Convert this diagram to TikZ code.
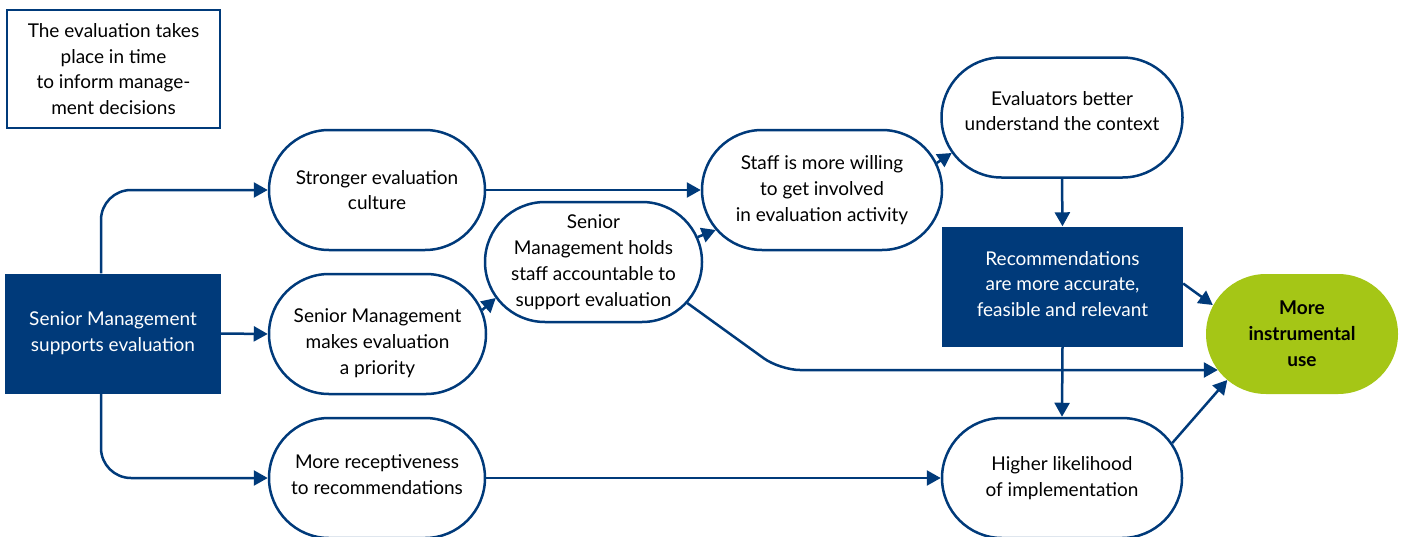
\documentclass[tikz,border=0pt]{standalone}
\usepackage{fontspec}
\setmainfont{Lato}
\usetikzlibrary{arrows.meta,calc}
\definecolor{navy}{RGB}{0,58,122}
\definecolor{lime}{RGB}{165,198,22}
\begin{document}
\begin{tikzpicture}[x=1pt,y=-1pt,
  every node/.style={align=center,font=\fontsize{19}{25.8}\selectfont,inner sep=0pt},
  every label/.style={align=center,font=\fontsize{19}{25.8}\selectfont,inner sep=0pt},
  pill/.style={draw=navy,line width=2.5pt,fill=white,rounded corners=60pt,minimum height=120pt},
  darkbox/.style={fill=navy,text=white,minimum height=120pt},
  notebox/.style={draw=navy,line width=2pt,minimum width=213pt,minimum height=118pt},
  goal/.style={fill=lime,rounded corners=60pt,minimum width=192pt,minimum height=120pt,font=\fontsize{19}{25.8}\selectfont\bfseries},
  arr/.style={draw=navy,line width=2.5pt,-{Triangle[length=14pt,width=15pt]}}]
\useasboundingbox (0,0) rectangle (1406,536);
\node[notebox] (note) at (113.5,69) {The evaluation takes\\place in time\\to inform manage-\\ment decisions};
\node[darkbox,minimum width=216pt] (smsupp) at (113,333.5) {Senior Management\\supports evaluation};
\node[pill,minimum width=216pt] (stronger) at (377,190) {Stronger evaluation\\culture};
\node[pill,minimum width=217pt,label={[yshift=-9pt]center:Senior Management\\makes evaluation\\a priority}] (makes) at (377.5,334) {};
\node[pill,minimum width=216pt,label={[yshift=3pt]center:More receptiveness\\to recommendations}] (recep) at (377,478) {};
\node[pill,minimum width=217pt] (holds) at (593.5,262) {Senior\\Management holds\\staff accountable to\\support evaluation};
\node[pill,minimum width=240pt] (staff) at (822,190) {Staff is more willing\\to get involved\\in evaluation activity};
\node[pill,minimum width=241pt,label={[yshift=6.5pt]center:Evaluators better\\understand the context}] (evalu) at (1062,117.5) {};
\node[darkbox,minimum width=241pt,label={[yshift=2.5pt,text=white]center:Recommendations\\are more accurate,\\feasible and relevant}] (recs) at (1062.5,286.5) {};
\node[goal] (green) at (1302,334) {More\\instrumental\\use};
\node[pill,minimum width=240pt] (higher) at (1062,478) {Higher likelihood\\of implementation};
\coordinate (bend) at (780,370);
\draw[arr,rounded corners=30pt] ([xshift=-12pt]smsupp.north) |- (stronger.west);
\draw[arr] (smsupp.east) -- (makes.west);
\draw[arr,rounded corners=30pt] ([xshift=-12pt]smsupp.south) |- (recep.west);
\draw[arr] (stronger.east) -- (staff.west);
\draw[arr] ([shift={(-5,-24)}]makes.east) -- ([shift={(12,36)}]holds.west);
\draw[arr] ([shift={(-5.5,-25)}]holds.east) -- ([shift={(15,40)}]staff.west);
\draw[arr] ([shift={(-6.5,-27)}]staff.east) -- ([shift={(11.5,35.5)}]evalu.west);
\draw[arr] (evalu.south) -- (recs.north);
\draw[arr] ([shift={(0,-3)}]recs.east) -- ([shift={(7,-29)}]green.west);
\draw[arr,rounded corners=20pt] ([shift={(-16,41)}]holds.east) -- (bend) -- ([shift={(12,36)}]green.west);
\draw[arr] (recs.south) -- (higher.north);
\draw[arr] (recep.east) -- (higher.west);
\draw[arr] ([shift={(-11,-35)}]higher.east) -- ([shift={(21.5,46)}]green.west);
\end{tikzpicture}
\end{document}
